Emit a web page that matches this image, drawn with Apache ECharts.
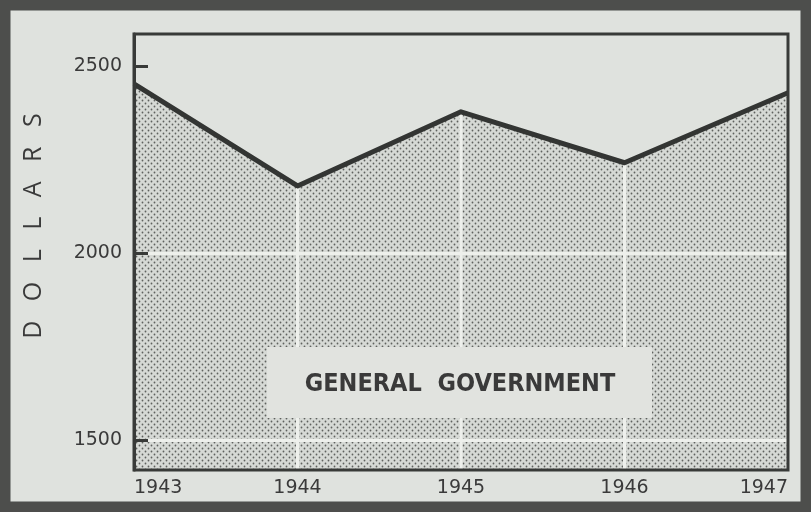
<!DOCTYPE html>
<html>
<head>
<meta charset="utf-8">
<script src="https://cdn.jsdelivr.net/npm/echarts@6/dist/echarts.min.js"></script>
<style>
html, body { margin: 0; padding: 0; background: #dfe2de; }
#chart { width: 811px; height: 512px; }
</style>
</head>
<body>
<div id="chart"></div>
<script>
var years = ['1943', '1944', '1945', '1946', '1947'];
var dollars = [2452, 2179, 2377, 2241, 2428];
var yTicks = [1500, 2000, 2500];
var caption = 'GENERAL  GOVERNMENT';

// dotted screen for the area under the line
var pat = document.createElement('canvas');
pat.width = 6;
pat.height = 6;
var ctx = pat.getContext('2d');
ctx.fillStyle = '#d6d9d5';
ctx.fillRect(0, 0, 6, 6);
ctx.fillStyle = '#5f615e';
ctx.beginPath();
ctx.arc(1.5, 1.5, 0.9, 0, Math.PI * 2);
ctx.arc(4.5, 4.5, 0.9, 0, Math.PI * 2);
ctx.fill();

// white vertical rules only at the inner years
var rules = dollars.map(function (v, i) {
    return (i === 0 || i === dollars.length - 1) ? '-' : v;
});

var chart = echarts.init(document.getElementById('chart'));
chart.setOption({
    backgroundColor: '#dfe2de',
    animation: false,
    grid: {
        left: 134, right: 23, top: 34, bottom: 42,
        show: true,
        z: 10,
        backgroundColor: 'transparent',
        borderColor: '#383a38',
        borderWidth: 3
    },
    xAxis: {
        type: 'category',
        data: years,
        boundaryGap: false,
        axisLine: { show: false },
        axisTick: { show: false },
        splitLine: { show: false },
        axisLabel: {
            margin: 9,
            fontFamily: 'DejaVu Sans',
            fontSize: 19,
            color: '#3a3a3a',
            alignMinLabel: 'left',
            alignMaxLabel: 'right'
        }
    },
    yAxis: {
        type: 'value',
        min: 1420,
        max: 2585,
        z: 5,
        name: '        D   O   L   L   A   R   S',
        nameLocation: 'middle',
        nameRotate: 90,
        nameGap: 88,
        nameTextStyle: {
            fontFamily: 'Open Sans',
            fontSize: 25,
            color: '#3a3a3a'
        },
        axisLine: { show: true, onZero: false, lineStyle: { color: '#383a38', width: 3 } },
        axisTick: {
            show: true,
            inside: true,
            length: 14,
            customValues: yTicks,
            lineStyle: { color: '#383a38', width: 3 }
        },
        axisLabel: {
            customValues: yTicks,
            margin: 12,
            fontFamily: 'DejaVu Sans',
            fontSize: 19,
            color: '#3a3a3a',
            formatter: function (v) { return String(v); }
        },
        splitLine: {
            show: true,
            showMaxLine: false,
            lineStyle: { color: '#eef0ec', width: 3 }
        }
    },
    series: [
        {
            type: 'line',
            data: dollars,
            z: 1,
            symbol: 'none',
            lineStyle: { width: 0 },
            areaStyle: {
                origin: 'start',
                opacity: 1,
                color: { image: pat, repeat: 'repeat' }
            }
        },
        {
            type: 'bar',
            data: rules,
            z: 2,
            barWidth: 3,
            itemStyle: { color: '#eef0ec' }
        },
        {
            type: 'line',
            data: dollars,
            z: 3,
            symbol: 'none',
            lineStyle: { color: '#333533', width: 5, join: 'round' }
        }
    ],
    graphic: [
        {
            type: 'rect',
            z: 20,
            shape: { x: 267, y: 347, width: 385, height: 71 },
            style: { fill: '#e1e3df' }
        },
        {
            type: 'text',
            z: 21,
            x: 460,
            y: 384,
            style: {
                text: caption,
                align: 'center',
                verticalAlign: 'middle',
                fontFamily: "'DejaVu Sans Condensed', 'Liberation Sans Narrow', sans-serif",
                fontWeight: 'bold',
                fontSize: 25,
                fill: '#3a3a3a'
            }
        },
        {
            type: 'rect',
            z: 30,
            shape: { x: 5, y: 5, width: 801, height: 502 },
            style: { fill: null, stroke: '#4d4e4c', lineWidth: 11 }
        }
    ]
});
</script>
</body>
</html>
